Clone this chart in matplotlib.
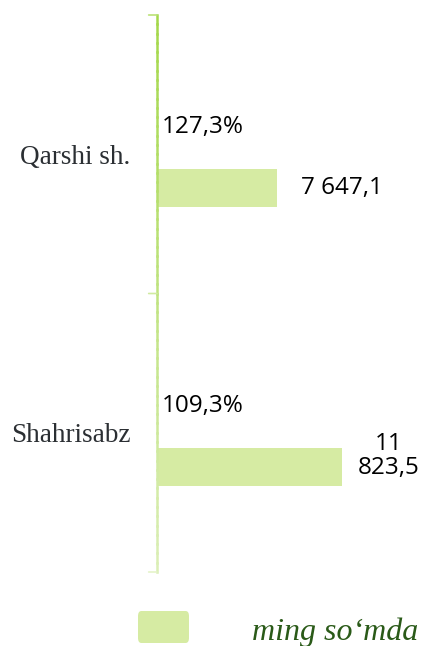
import matplotlib
matplotlib.use("Agg")
import matplotlib.pyplot as plt
from matplotlib.patches import FancyBboxPatch
from matplotlib.collections import LineCollection
from matplotlib.colors import to_rgb
import numpy as np

categories = ["Qarshi sh.", "Shahrisabz"]
values = [7647.1, 11823.5]          # ming so'mda
growth = [127.3, 109.3]             # %
legend_label = "ming so\u2018mda"

bar_color = "#d6eba3"
axis_top = "#a4d84a"
axis_bottom = "#dcefb8"

def fmt_val(v):
    return f"{v:,.1f}".replace(",", " ").replace(".", ",")

fig = plt.figure(figsize=(4.24, 6.46), dpi=100)
ax = fig.add_axes([157/424, 1-572/646, (424-157)/424, (572-15)/646])

y = np.arange(len(categories))
bar_h = 0.137
off = 0.122
ax.barh(y + off, values, height=bar_h, color=bar_color, left=0, zorder=2)

ax.set_ylim(len(categories) - 0.5, -0.5)
ax.set_xlim(0, 17060)

for s in ["top", "right", "bottom", "left"]:
    ax.spines[s].set_visible(False)
ax.set_xticks([])

# gradient axis line
n = 60
ys = np.linspace(1, 0, n + 1)
segs = [[(0, ys[k]), (0, ys[k + 1])] for k in range(n)]
c0, c1 = np.array(to_rgb(axis_top)), np.array(to_rgb(axis_bottom))
cols = [c0 + (c1 - c0) * (k / n) for k in range(n)]
lc = LineCollection(segs, colors=cols, linewidths=1.8, capstyle="projecting",
                    transform=ax.transAxes, clip_on=False, zorder=3)
ax.add_collection(lc)

# tick marks at category boundaries
bounds = np.arange(-0.5, len(categories))
ax.set_yticks(bounds, minor=False)
ax.set_yticklabels([])
ax.tick_params(axis="y", which="major", length=0)
for b in bounds:
    frac = (b + 0.5) / len(categories)
    col = c0 + (c1 - c0) * frac
    col = col + (1 - col) * 0.25
    ax.annotate("", xy=(0, b), xycoords=("axes fraction", "data"),
                xytext=(-6, 0), textcoords="offset points",
                arrowprops=dict(arrowstyle="-", color=col, lw=1.2,
                                shrinkA=0, shrinkB=0))

ax.set_yticks(y, minor=True)
ax.set_yticklabels(categories, minor=True, fontfamily="Liberation Serif",
                   fontsize=19.5, color="#2b2f33")
ax.tick_params(axis="y", which="minor", length=0, pad=19)

val_font = dict(fontfamily="Open Sans", fontsize=17.5, color="black")
for i, (v, g) in enumerate(zip(values, growth)):
    ax.annotate(f"{g:.1f}".replace(".", ",") + "%", xy=(0, i - 0.105),
                xytext=(3.6, -1.5), textcoords="offset points",
                ha="left", va="center", **val_font)
    txt = fmt_val(v)
    if len(txt) > 7:
        parts = txt.split(" ", 1)
        ax.annotate(parts[0] + "\n" + parts[1], xy=(v, i + off),
                    xytext=(11.5, 8), textcoords="offset points",
                    ha="left", va="center", multialignment="center",
                    linespacing=1.0, **val_font)
    else:
        ax.annotate(txt, xy=(v, i + off), xytext=(17.3, 0),
                    textcoords="offset points", ha="left", va="center",
                    **val_font)

# legend
patch = FancyBboxPatch((138/424, 1-643/646), 51/424, 32/646,
                       boxstyle="round,pad=0,rounding_size=0.008",
                       transform=fig.transFigure, facecolor=bar_color,
                       edgecolor="none")
fig.patches.append(patch)
fig.text(252/424, 1-632/646, legend_label, fontfamily="Liberation Serif",
         style="italic", fontsize=23, color="#2a5a18", ha="left", va="center")

fig.savefig("out.png", dpi=100)
